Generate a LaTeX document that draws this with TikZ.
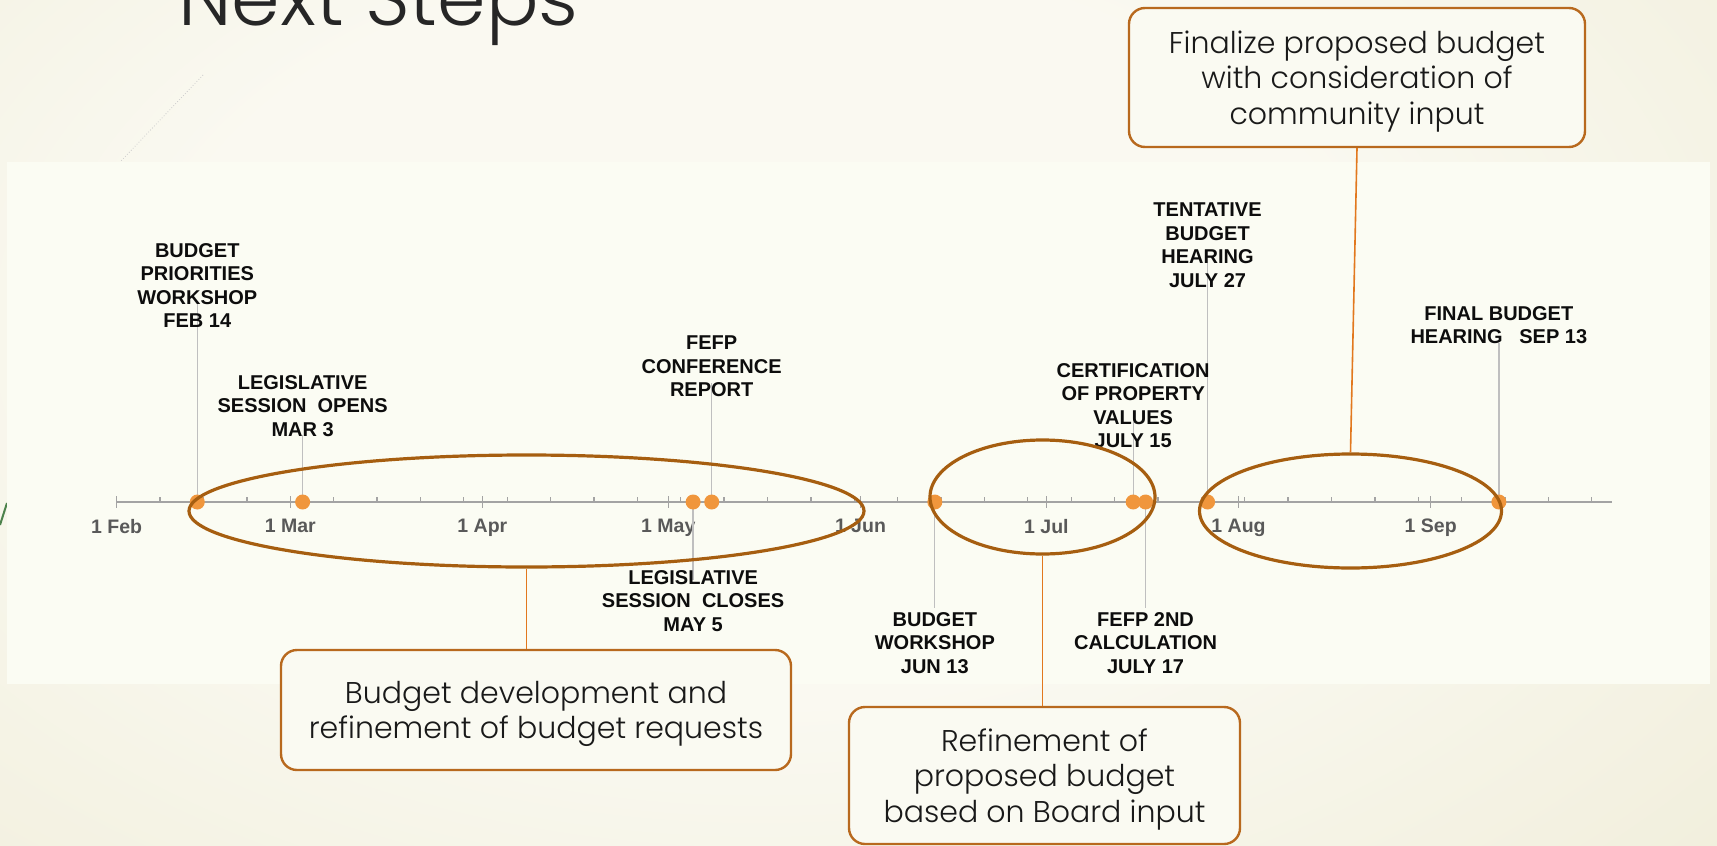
\documentclass[tikz,border=0pt]{standalone}
\usepackage{fontspec}
\setmainfont{Liberation Sans}
\newfontfamily\slidefont{Poppins Light}
\usetikzlibrary{shapes.geometric,calc}
\definecolor{bgout}{RGB}{232,228,199}
\definecolor{bgin}{RGB}{250,249,241}
\definecolor{chartbg}{RGB}{251,252,243}
\definecolor{axisgray}{RGB}{163,163,163}
\definecolor{dropgray}{RGB}{191,191,191}
\definecolor{dotorange}{RGB}{240,150,60}
\definecolor{ringbrown}{RGB}{166,94,16}
\definecolor{boxbrown}{RGB}{184,105,30}
\definecolor{linkorange}{RGB}{226,120,30}
\definecolor{ticklabel}{RGB}{89,89,89}
\definecolor{boxfill}{RGB}{250,250,242}
\definecolor{titlegray}{RGB}{38,38,38}
\pgfdeclareradialshading{slidebg}{\pgfpoint{0bp}{0bp}}{color(0bp)=(bgin); color(15bp)=(bgin); color(50bp)=(bgout)}
\tikzset{
  event/.style={align=center, inner sep=0pt, font=\fontsize{20}{23.5}\selectfont\bfseries, text=black!95},
  month/.style={anchor=north, inner sep=0pt, font=\fontsize{19.5}{22}\selectfont\bfseries, text=ticklabel},
  evdot/.style={circle, fill=dotorange, minimum size=15pt, inner sep=0pt},
  drop/.style={dropgray, line width=1.3pt},
  axis/.style={axisgray, line width=2pt},
  ring/.style={ellipse, draw=ringbrown, line width=3.2pt, inner sep=0pt},
  note/.style={draw=boxbrown, line width=2.4pt, rounded corners=16pt, fill=boxfill, align=center,
               font=\slidefont\fontsize{30}{35.5}\selectfont, text=black!90, inner sep=0pt, text depth=0pt},
  link/.style={linkorange, line width=1.6pt}
}

\begin{document}
\begin{tikzpicture}[x=1pt, y=-1pt]
\useasboundingbox (0,0) rectangle (1717,846);
% slide background
\begin{scope}
  \clip (0,0) rectangle (1717,846);
  \fill[bgout] (0,0) rectangle (1717,846);
  \shade[shading=slidebg] (-240,-290) rectangle (1760,950);
\end{scope}
\draw[gray!40, dotted, line width=0.8pt] (203,75) -- (120,162);
\draw[green!30!black!70, line width=2pt] (0,525) -- (7,503);
\node[anchor=base west, inner sep=0pt, font=\slidefont\fontsize{78}{84}\selectfont, text=titlegray] (title) at (178,25) {Next Steps};
% chart area
\fill[chartbg] (7,162) rectangle (1710,684);

% axis: day 0 = 1 Feb
\def\xo{116.7} \def\dw{6.198} \def\ya{502}
\draw[axis] (\xo,\ya) -- (1612,\ya);
\foreach \d in {7,14,...,238} \draw[axisgray, line width=1.3pt] ({\xo+\dw*\d},\ya) -- ++(0,-5);
\foreach \d/\mon in {0/Feb,28/Mar,59/Apr,89/May,120/Jun,150/Jul,181/Aug,212/Sep} {
  \draw[axisgray, line width=1.3pt] ({\xo+\dw*\d},496) -- ({\xo+\dw*\d},508);
  \node[month] (m-\mon) at ({\xo+\dw*\d},519) {1 \mon};
}

% events: day / name / end of drop line
\foreach \d/\n/\e in {13/feb/302, 30/mar/435, 93/may/580, 96/fefp/383, 132/jun/608,
                      164/cert/422, 166/calc/608, 176/tent/263, 223/final/343} {
  \coordinate (\n) at ({\xo+\dw*\d},\ya);
  \coordinate (\n-end) at ({\xo+\dw*\d},\e);
  \draw[drop] (\n) -- (\n-end);
}
\foreach \n in {feb,mar,may,fefp,jun,cert,calc,tent,final} \node[evdot] (\n-dot) at (\n) {};

% labels above the line
\node[event, anchor=north] (feb-lbl) at (feb |- 0,243) {BUDGET\\PRIORITIES\\WORKSHOP\\FEB 14};
\node[event, anchor=north] (mar-lbl) at (mar |- 0,375) {LEGISLATIVE\\SESSION\ \ OPENS\\MAR 3};
\node[event, anchor=north] (fefp-lbl) at (fefp |- 0,336) {FEFP\\CONFERENCE\\REPORT};
\node[event, anchor=north] (cert-lbl) at (cert |- 0,363) {CERTIFICATION\\OF PROPERTY\\VALUES\\JULY 15};
\node[event, anchor=north] (tent-lbl) at (tent |- 0,203) {TENTATIVE\\BUDGET\\HEARING\\JULY 27};
\node[event, anchor=north] (final-lbl) at (final |- 0,306) {FINAL BUDGET\\HEARING\ \ \ SEP 13};
% labels below the line
\node[event, anchor=north] (may-lbl) at (may |- 0,570) {LEGISLATIVE\\SESSION\ \ CLOSES\\MAY 5};
\node[event, anchor=north] (jun-lbl) at (jun |- 0,612) {BUDGET\\WORKSHOP\\JUN 13};
\node[event, anchor=north] (calc-lbl) at (calc |- 0,612) {FEFP 2ND\\CALCULATION\\JULY 17};

% phases
\node[ring, minimum width=675pt, minimum height=112pt] (ring1) at (526.5,511) {};
\node[ring, minimum width=225pt, minimum height=114pt] (ring2) at (1042.5,497) {};
\node[ring, minimum width=302pt, minimum height=114pt] (ring3) at (1350.5,511) {};

\node[note, minimum width=510pt, minimum height=120pt] (box1) at (536,710) {Budget development and\\refinement of budget requests};
\node[note, minimum width=391pt, minimum height=137pt] (box2) at (1044.5,775.5) {Refinement of\\proposed budget\\based on Board input};
\node[note, minimum width=456pt, minimum height=139pt] (box3) at (1357,77.5) {Finalize proposed budget\\with consideration of\\community input};

\draw[link] (ring1.south) -- (ring1.south |- box1.north);
\draw[link] (ring2.south) -- (ring2.south |- box2.north);
\draw[link] (box3.south) -- (ring3.north);
\end{tikzpicture}
\end{document}
